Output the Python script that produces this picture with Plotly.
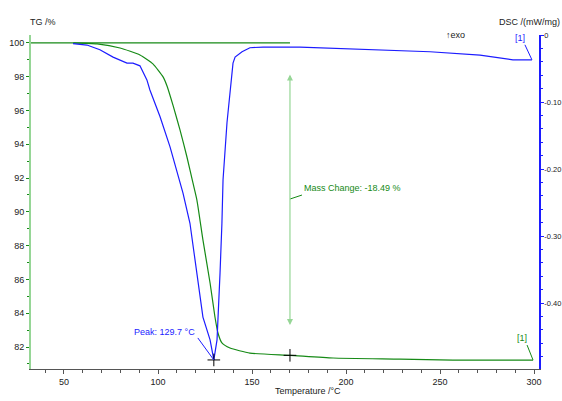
import plotly.graph_objects as go

# ---- data ----
tg_temp = [55, 67.6, 79.8, 90.4, 97.3, 102.7, 104.8, 108.0, 111.7, 115.4, 118.6, 120.7,
           123.9, 127.7, 130.3, 131.9, 134.0, 138.3, 148.9, 170.2, 193.1, 228.7, 256.9, 299.5]
tg_pct = [100, 99.94, 99.70, 99.29, 98.76, 97.99, 97.45, 96.30, 94.85, 93.25, 91.71, 90.70,
          88.34, 85.79, 83.78, 82.83, 82.24, 81.94, 81.64, 81.51, 81.35, 81.29, 81.23, 81.23]

dsc_temp = [54.8, 62.2, 69.1, 76.1, 83.5, 86.7, 90.4, 94.1, 95.7, 101.1, 106.4, 110.1, 113.3,
            117.0, 120.7, 123.9, 127.7, 129.7, 131.4, 131.9, 133.0, 134.0, 134.6, 136.7,
            138.3, 139.9, 141.0, 144.7, 148.9, 155.9, 175.5, 218.1, 244.7, 271.3, 288.8, 298.9]
dsc_val = [-0.013, -0.015, -0.022, -0.033, -0.042, -0.042, -0.046, -0.067, -0.082, -0.122,
           -0.167, -0.206, -0.236, -0.281, -0.355, -0.421, -0.455, -0.485, -0.455, -0.430,
           -0.355, -0.281, -0.216, -0.131, -0.082, -0.042, -0.033, -0.025, -0.019, -0.018,
           -0.018, -0.022, -0.025, -0.030, -0.037, -0.037]

peak_temp = 129.7
peak_dsc = -0.485
step_temp = 170.2
step_start = 100.0
step_end = 81.51
mass_change = -18.49

x_ticks = [50, 100, 150, 200, 250, 300]
tg_ticks = [82, 84, 86, 88, 90, 92, 94, 96, 98, 100]
dsc_ticks = [0, -0.10, -0.20, -0.30, -0.40]
dsc_ticktext = ["0", "-0.10", "-0.20", "-0.30", "-0.40"]

X_RANGE = [32.45, 302.66]
TG_RANGE = [80.70, 100.47]
DSC_RANGE = [-0.4985, 0.0]

FONT = "Liberation Sans, Arial, sans-serif"
GREEN = "#168a16"
LGREEN = "#96d696"
BLUE = "#1c1cff"

fig = go.Figure()

fig.add_trace(go.Scatter(x=[X_RANGE[0], step_temp], y=[step_start, step_start], mode="lines",
                         line=dict(color=GREEN, width=1.2), yaxis="y", showlegend=False,
                         hoverinfo="skip"))
fig.add_trace(go.Scatter(x=tg_temp, y=tg_pct, mode="lines",
                         line=dict(color=GREEN, width=1.2, shape="spline", smoothing=0.5),
                         yaxis="y", showlegend=False))
fig.add_trace(go.Scatter(x=dsc_temp, y=dsc_val, mode="lines",
                         line=dict(color=BLUE, width=1.2), yaxis="y2", showlegend=False))
fig.add_trace(go.Scatter(x=[peak_temp], y=[peak_dsc], mode="markers", yaxis="y2",
                         marker=dict(symbol="cross-thin", size=9, line=dict(color="black", width=1)),
                         showlegend=False))
fig.add_trace(go.Scatter(x=[step_temp], y=[step_end], mode="markers", yaxis="y",
                         marker=dict(symbol="cross-thin", size=9, line=dict(color="black", width=1)),
                         showlegend=False))

tickfont = dict(family=FONT, size=9, color="#222222")

fig.update_layout(
    width=562, height=401,
    margin=dict(l=31, r=23, t=35, b=32, autoexpand=False),
    paper_bgcolor="white", plot_bgcolor="white",
    xaxis=dict(range=X_RANGE, tickvals=x_ticks, showgrid=False, zeroline=False, automargin=False,
               showline=True, linecolor="#555555", linewidth=1,
               ticks="outside", ticklen=4, tickcolor="#555555", tickfont=tickfont,
               minor=dict(dtick=10, tick0=0, ticks="outside", ticklen=3, tickcolor="#555555")),
    yaxis=dict(range=TG_RANGE, tickvals=tg_ticks, showgrid=False, zeroline=False, automargin=False,
               showline=True, linecolor=LGREEN, linewidth=2,
               ticks="outside", ticklen=3, tickcolor=GREEN, tickfont=tickfont,
               minor=dict(dtick=1, tick0=0, ticks="outside", ticklen=2, tickcolor=GREEN)),
    yaxis2=dict(range=DSC_RANGE, overlaying="y", side="right", tickvals=dsc_ticks,
                ticktext=dsc_ticktext, showgrid=False, zeroline=False, automargin=False,
                showline=True, linecolor=BLUE, linewidth=1.5,
                ticks="outside", ticklen=3, tickcolor=BLUE,
                tickfont=dict(family=FONT, size=7.5, color="#222222"), ticklabelstandoff=-1,
                minor=dict(dtick=0.02, tick0=0, ticks="outside", ticklen=2, tickcolor=BLUE)),
)

txt = dict(family=FONT, size=9)
ann = []
ann.append(dict(text="TG /%", xref="paper", yref="paper", x=-0.005, y=1.06,
                showarrow=False, font=dict(txt, color="#222222")))
ann.append(dict(text="DSC /(mW/mg)", xref="paper", yref="paper", x=0.918, y=1.06,
                xanchor="left", showarrow=False, font=dict(txt, color="#222222")))
ann.append(dict(text="\u2191exo", xref="paper", yref="paper", x=0.858, y=1.021,
                showarrow=False, font=dict(txt, color="#222222")))
ann.append(dict(text="Temperature /\u00b0C", xref="paper", yref="paper", x=0.545, y=-0.088,
                showarrow=False, font=dict(txt, color="#222222")))
ann.append(dict(text="Peak: %.1f \u00b0C" % peak_temp, xref="x", yref="y2", x=120.9, y=-0.443,
                xanchor="right", showarrow=False, font=dict(txt, color=BLUE)))
ann.append(dict(text="Mass Change: %.2f %%" % mass_change, xref="x", yref="y", x=176.4, y=91.41,
                xanchor="left", showarrow=False, font=dict(txt, color=GREEN)))
ann.append(dict(text="[1]", xref="x", yref="y", x=293.6, y=82.53,
                showarrow=False, font=dict(txt, color=GREEN)))
ann.append(dict(text="[1]", xref="x", yref="y2", x=292.6, y=-0.0045,
                showarrow=False, font=dict(txt, color=BLUE)))
ann.append(dict(x=step_temp, y=83.3, ax=step_temp, ay=98.22, xref="x", yref="y",
                axref="x", ayref="y", showarrow=True, arrowside="end+start",
                arrowhead=2, arrowsize=1, arrowwidth=1.2, arrowcolor=LGREEN, text=""))
fig.update_layout(annotations=ann)

def leader(xa, ya, yref, dx, dy, color):
    fig.add_shape(type="line", xref="x", yref=yref, xsizemode="pixel", ysizemode="pixel",
                  xanchor=xa, yanchor=ya, x0=0, y0=0, x1=dx, y1=dy,
                  line=dict(color=color, width=1))

leader(peak_temp, peak_dsc, "y2", -16, 22, BLUE)
leader(tg_temp[-1], tg_pct[-1], "y", -6, 15, GREEN)
leader(dsc_temp[-1], dsc_val[-1], "y2", -7, 15, BLUE)
leader(step_temp, 90.76, "y", 12, 4, GREEN)

fig.write_html("out.html")
